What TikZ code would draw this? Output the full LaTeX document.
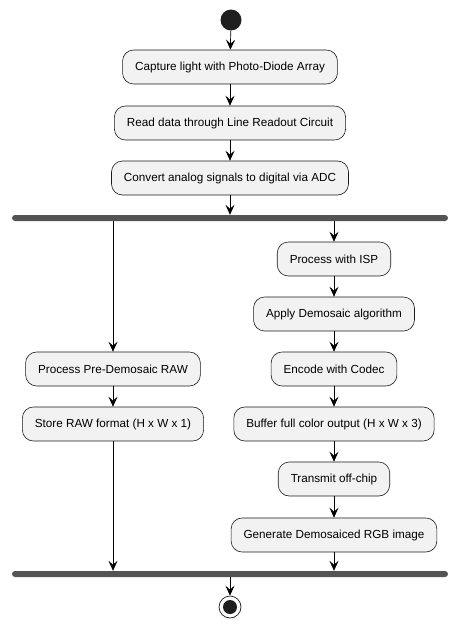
\documentclass[tikz,border=0pt]{standalone}
\usepackage{fontspec}
\setmainfont{Liberation Sans}
\usetikzlibrary{arrows.meta}

\tikzset{
  action/.style={draw=black!90, fill=black!5, rounded corners=11pt, line width=0.6pt,
    minimum height=34pt, inner xsep=12.5pt, font=\fontsize{11.7}{14}\selectfont},
  bar/.style={fill=black!67, rounded corners=3pt, minimum width=436pt,
    minimum height=6pt, inner sep=0pt},
  flow/.style={-{Stealth[length=10pt,width=9pt,inset=4pt]}, line width=0.7pt},
  plain/.style={line width=0.7pt}
}

\begin{document}
\begin{tikzpicture}[x=1pt,y=-1pt]
    \useasboundingbox (0,0) rectangle (459,629);
    % start and main line
    \node [circle, fill=black!88, minimum size=21pt, inner sep=0pt] (start) at (231,20) {};
    \node [action] (capture) at (230,67) {Capture light with Photo-Diode Array};
    \node [action] (readout) at (230,123) {Read data through Line Readout Circuit};
    \node [action] (adc) at (230,178) {Convert analog signals to digital via ADC};
    \node [bar] (fork) at (230,218) {};
    \draw [flow] (start) -- (capture);
    \draw [flow] (capture) -- (readout);
    \draw [flow] (readout) -- (adc);
    \draw [flow] (adc) -- (adc |- fork.north);

    % left branch
    \node [action] (preraw) at (113,369) {Process Pre-Demosaic RAW};
    \node [action] (storeraw) at (113,424) {Store RAW format (H x W x 1)};
    \draw [flow] (preraw |- fork.south) -- (preraw);
    \draw [flow] (preraw) -- (storeraw);

    % right branch
    \node [action] (isp) at (334,259) {Process with ISP};
    \node [action] (demosaic) at (334,314) {Apply Demosaic algorithm};
    \node [action] (codec) at (334,369) {Encode with Codec};
    \node [action] (buffer) at (334,424) {Buffer full color output (H x W x 3)};
    \node [action] (transmit) at (334,479) {Transmit off-chip};
    \node [action] (rgb) at (334,535) {Generate Demosaiced RGB image};
    \draw [flow] (isp |- fork.south) -- (isp);
    \draw [flow] (isp) -- (demosaic);
    \draw [flow] (demosaic) -- (codec);
    \draw [flow] (codec) -- (buffer);
    \draw [flow] (buffer) -- (transmit);
    \draw [flow] (transmit) -- (rgb);

    % join and end
    \node [bar] (join) at (230,574) {};
    \draw [flow] (storeraw) -- (storeraw |- join.north);
    \draw [flow] (rgb) -- (rgb |- join.north);
    \node [circle, draw=black!90, line width=0.7pt, minimum size=22pt, inner sep=0pt] (stop) at (230,607) {};
    \fill [black!88] (stop.center) circle (7);
    \draw [flow] (join) -- (stop);
\end{tikzpicture}
\end{document}
